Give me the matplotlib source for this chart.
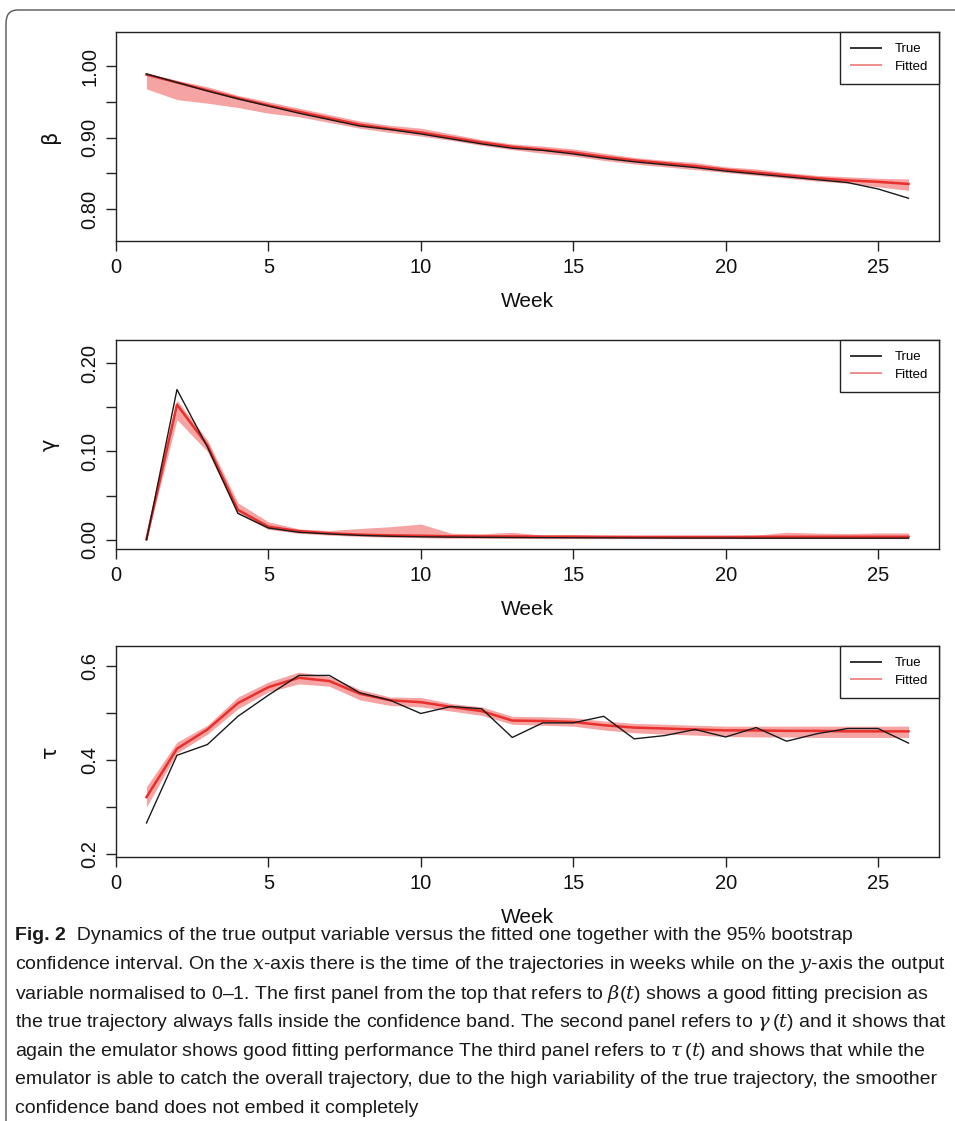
import matplotlib
matplotlib.use("Agg")
import matplotlib.pyplot as plt
from matplotlib.patches import FancyBboxPatch
from matplotlib import font_manager

# ---------------- data ----------------
weeks = list(range(1, 27))

beta_true = [0.989, 0.977, 0.965, 0.954, 0.944, 0.934, 0.925, 0.916, 0.911, 0.905,
             0.898, 0.891, 0.885, 0.882, 0.877, 0.871, 0.866, 0.862, 0.858, 0.853,
             0.849, 0.845, 0.841, 0.837, 0.828, 0.815]
beta_fit = [0.988, 0.977, 0.966, 0.955, 0.945, 0.936, 0.927, 0.918, 0.912, 0.907,
            0.900, 0.893, 0.887, 0.883, 0.879, 0.873, 0.868, 0.864, 0.860, 0.855,
            0.851, 0.847, 0.843, 0.840, 0.838, 0.835]
beta_lo = [0.968, 0.953, 0.948, 0.942, 0.934, 0.929, 0.921, 0.913, 0.907, 0.902,
           0.896, 0.889, 0.883, 0.878, 0.874, 0.868, 0.863, 0.859, 0.855, 0.851,
           0.847, 0.843, 0.839, 0.836, 0.831, 0.826]
beta_hi = [0.990, 0.980, 0.971, 0.959, 0.950, 0.941, 0.932, 0.923, 0.917, 0.913,
           0.905, 0.897, 0.891, 0.888, 0.884, 0.878, 0.872, 0.868, 0.865, 0.859,
           0.856, 0.851, 0.847, 0.845, 0.843, 0.842]

gamma_true = [0.000, 0.170, 0.105, 0.030, 0.0135, 0.0087, 0.0068, 0.0052, 0.0042, 0.0036,
              0.0032, 0.0030, 0.0028, 0.0026, 0.0025, 0.0024, 0.0023, 0.0022, 0.0021, 0.0021,
              0.0020, 0.0020, 0.0020, 0.0020, 0.0020, 0.0020]
gamma_fit = [0.001, 0.153, 0.107, 0.034, 0.0150, 0.0100, 0.0075, 0.0060, 0.0052, 0.0048,
             0.0042, 0.0040, 0.0040, 0.0038, 0.0037, 0.0036, 0.0035, 0.0035, 0.0035, 0.0035,
             0.0035, 0.0036, 0.0036, 0.0036, 0.0036, 0.0036]
gamma_lo = [0.000, 0.136, 0.100, 0.030, 0.0120, 0.0075, 0.0055, 0.0040, 0.0030, 0.0025,
            0.0020, 0.0018, 0.0017, 0.0016, 0.0015, 0.0015, 0.0015, 0.0015, 0.0015, 0.0015,
            0.0015, 0.0015, 0.0015, 0.0015, 0.0015, 0.0015]
gamma_hi = [0.002, 0.158, 0.113, 0.042, 0.0205, 0.0125, 0.0106, 0.0130, 0.0150, 0.0180,
            0.0076, 0.0070, 0.0087, 0.0055, 0.0060, 0.0050, 0.0050, 0.0050, 0.0050, 0.0050,
            0.0055, 0.0087, 0.0078, 0.0072, 0.0080, 0.0080]

tau_true = [0.266, 0.410, 0.433, 0.493, 0.538, 0.580, 0.580, 0.543, 0.527, 0.499,
            0.514, 0.509, 0.448, 0.479, 0.479, 0.493, 0.445, 0.452, 0.465, 0.449,
            0.469, 0.440, 0.456, 0.467, 0.467, 0.436]
tau_fit = [0.321, 0.424, 0.465, 0.521, 0.555, 0.575, 0.568, 0.541, 0.527, 0.523,
           0.513, 0.504, 0.484, 0.483, 0.481, 0.474, 0.469, 0.467, 0.465, 0.463,
           0.463, 0.462, 0.462, 0.461, 0.461, 0.461]
tau_lo = [0.300, 0.415, 0.455, 0.509, 0.545, 0.562, 0.557, 0.528, 0.516, 0.513,
          0.504, 0.495, 0.476, 0.474, 0.472, 0.464, 0.458, 0.455, 0.453, 0.450,
          0.449, 0.449, 0.448, 0.448, 0.448, 0.448]
tau_hi = [0.343, 0.438, 0.474, 0.534, 0.566, 0.587, 0.578, 0.550, 0.534, 0.533,
          0.520, 0.513, 0.493, 0.492, 0.490, 0.483, 0.478, 0.476, 0.474, 0.472,
          0.472, 0.472, 0.472, 0.472, 0.472, 0.472]

x_ticks = [0, 5, 10, 15, 20, 25]
panels = [
    dict(label="β", true=beta_true, fit=beta_fit, lo=beta_lo, hi=beta_hi,
         ticks=[0.80, 0.85, 0.90, 0.95, 1.00], ticklabels=["0.80", "", "0.90", "", "1.00"],
         ylim=(0.7552, 1.0476), top=32, bottom=241),
    dict(label="γ", true=gamma_true, fit=gamma_fit, lo=gamma_lo, hi=gamma_hi,
         ticks=[0.00, 0.05, 0.10, 0.15, 0.20], ticklabels=["0.00", "", "0.10", "", "0.20"],
         ylim=(-0.0102, 0.226), top=340, bottom=549),
    dict(label="τ", true=tau_true, fit=tau_fit, lo=tau_lo, hi=tau_hi,
         ticks=[0.2, 0.3, 0.4, 0.5, 0.6], ticklabels=["0.2", "", "0.4", "", "0.6"],
         ylim=(0.1936, 0.6426), top=646, bottom=857),
]

caption_lines = [
    [("Fig. 2", "bold"), ("  Dynamics of the true output variable versus the fitted one together with the 95% bootstrap", "normal")],
    [("confidence interval. On the $x$-axis there is the time of the trajectories in weeks while on the $y$-axis the output", "normal")],
    [("variable normalised to 0\u20131. The first panel from the top that refers to $\\beta(t)$ shows a good fitting precision as", "normal")],
    [("the true trajectory always falls inside the confidence band. The second panel refers to $\\gamma\\,(t)$ and it shows that", "normal")],
    [("again the emulator shows good fitting performance The third panel refers to $\\tau\\,(t)$ and shows that while the", "normal")],
    [("emulator is able to catch the overall trajectory, due to the high variability of the true trajectory, the smoother", "normal")],
    [("confidence band does not embed it completely", "normal")],
]

# ---------------- style ----------------
W, H = 955, 1121
DPI = 100
plt.rcParams["font.family"] = ["Liberation Sans", "DejaVu Sans"]

names = {f.name for f in font_manager.fontManager.ttflist}
cap_font = "Liberation Sans Narrow" if "Liberation Sans Narrow" in names else "Liberation Sans"
plt.rcParams["mathtext.fontset"] = "custom"
plt.rcParams["mathtext.rm"] = cap_font
plt.rcParams["mathtext.it"] = "DejaVu Serif:italic"

fig = plt.figure(figsize=(W / DPI, H / DPI), dpi=DPI)
fig.patch.set_facecolor("white")

AX_L, AX_R = 116, 939
band_col = "#f5a3a3"
fit_col = "#e8302c"
edge = "#222222"

for p in panels:
    ax = fig.add_axes([AX_L / W, 1 - p["bottom"] / H, (AX_R - AX_L) / W, (p["bottom"] - p["top"]) / H])
    ax.fill_between(weeks, p["lo"], p["hi"], color=band_col, lw=0, zorder=1)
    ax.plot(weeks, p["fit"], color=fit_col, lw=1.8, zorder=2)
    ax.plot(weeks, p["true"], color="#1a1a1a", lw=1.0, zorder=3)
    ax.set_xlim(0, 27)
    ax.set_ylim(*p["ylim"])
    ax.set_xticks(x_ticks)
    ax.set_xticklabels([str(t) for t in x_ticks])
    ax.set_yticks(p["ticks"])
    ax.set_yticklabels(p["ticklabels"], rotation=90, va="center")
    ax.tick_params(direction="out", length=7, width=1.0, color=edge, labelsize=14.5,
                   labelcolor="#111111")
    ax.tick_params(axis="y", pad=5)
    ax.tick_params(axis="x", pad=5)
    for s in ax.spines.values():
        s.set_color(edge)
        s.set_linewidth(1.0)
    ax.set_xlabel("Week", fontsize=15, color="#111111", labelpad=11)
    ax.set_ylabel(p["label"], fontsize=15, color="#111111", labelpad=15, family="DejaVu Sans")
    h1, = ax.plot([], [], color="#333333", lw=1.4, label="True")
    h2, = ax.plot([], [], color="#f08c8c", lw=1.4, label="Fitted")
    leg = ax.legend(handles=[h1, h2], loc="upper right", bbox_to_anchor=(1, 1),
                    borderaxespad=0, fancybox=False, framealpha=1, edgecolor=edge,
                    fontsize=9.5, handlelength=2.3, handletextpad=1.0,
                    borderpad=0.85, labelspacing=0.4)
    leg.get_frame().set_linewidth(1.0)

# border frame
frame = FancyBboxPatch((6 / W, -0.05), 1.2, 1 - 10 / H + 0.05,
                       boxstyle="round,pad=0,rounding_size=0.012",
                       transform=fig.transFigure, fill=False, edgecolor="#555555", lw=1.0,
                       clip_on=False)
fig.patches.append(frame)

# caption: size chosen so the longest line spans the same width as in the figure
r = fig.canvas.get_renderer()
probe = fig.text(0, 0, caption_lines[1][0][0], fontsize=13.2, family=cap_font)
w_probe = probe.get_window_extent(renderer=r).width
probe.remove()
cap_size = 13.2 * 933.0 / w_probe

y0 = 936
for i, parts in enumerate(caption_lines):
    y = 1 - (y0 + i * 28.8) / H
    x = 15 / W
    for txt, wt in parts:
        t = fig.text(x, y, txt, fontsize=cap_size, family=cap_font, fontweight=wt,
                     va="center", ha="left", color="#1a1a1a")
        bb = t.get_window_extent(renderer=r)
        x = bb.x1 / W

fig.savefig("out.png", dpi=DPI, facecolor="white")
